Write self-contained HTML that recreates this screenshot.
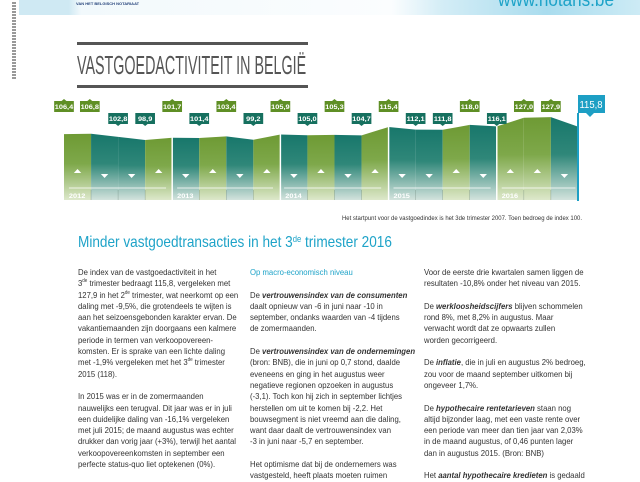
<!DOCTYPE html>
<html><head><meta charset="utf-8"><style>
body{margin:0;width:640px;height:480px;background:#fff;position:relative;overflow:hidden;font-family:"Liberation Sans",sans-serif;}
.abs{position:absolute;white-space:nowrap;}
.col{position:absolute;top:267px;font-size:8.6px;line-height:11.3px;color:#333;transform:scaleX(0.9);transform-origin:0 0;white-space:nowrap;}
.col b{font-style:italic;font-weight:bold;}
sup{font-size:5px;vertical-align:top;line-height:6px;}
</style></head><body>
<div class="abs" style="left:19px;top:0;width:621px;height:15px;background:linear-gradient(90deg,#cfe9f3 0,#cfe9f3 8%,#f2f9fc 10%,#fbfdfe 60%,#d4edf6 68%,#a9dcee 85%,#cdebf5 100%);"></div>
<div class="abs" style="left:76px;top:1px;font-size:4px;font-weight:bold;color:#24427a;">VAN HET BELGISCH NOTARIAAT</div>
<div class="abs" style="left:498px;top:-10px;font-size:19px;color:#1ea3c8;transform:scaleX(0.9);transform-origin:0 0;">www.notaris.be</div>
<div class="abs" style="left:12px;top:2px;width:4px;height:78px;background:repeating-linear-gradient(180deg,#333 0 2px,#fff 2px 3px);opacity:0.5;"></div>

<div class="abs" style="left:77px;top:42px;width:231px;height:3px;background:#555;"></div>
<div class="abs" style="left:77px;top:85px;width:231px;height:3px;background:#555;"></div>
<div class="abs" style="left:77px;top:50px;font-size:26px;color:#555;transform:scaleX(0.55);transform-origin:0 0;">VASTGOEDACTIVITEIT IN BELGIË</div>

<svg class="abs" style="left:0;top:0" width="640" height="230" viewBox="0 0 640 230">
<defs>
<linearGradient id="g" x1="0" y1="0" x2="0" y2="1"><stop offset="0" stop-color="#6e9a34"/><stop offset="0.45" stop-color="#7ea84a"/><stop offset="1" stop-color="#dde8cb"/></linearGradient>
<linearGradient id="t" x1="0" y1="0" x2="0" y2="1"><stop offset="0" stop-color="#18776b"/><stop offset="0.45" stop-color="#2f8779"/><stop offset="1" stop-color="#d3e3dd"/></linearGradient>
</defs>
<g transform="translate(64,0) scale(1.2295,1) translate(-52,0)">
<g>
<polygon points="52,134.1 74,133.8 74,200 52,200" fill="url(#g)"/>
<polygon points="74,133.8 96,136.9 96,200 74,200" fill="url(#t)"/>
<polygon points="96,136.9 118,140 118,200 96,200" fill="url(#t)"/>
<polygon points="118,140 140,137.8 140,200 118,200" fill="url(#g)"/>
<polygon points="140,137.8 162,138 162,200 140,200" fill="url(#t)"/>
<polygon points="162,138 184,136.4 184,200 162,200" fill="url(#g)"/>
<polygon points="184,136.4 206,139.8 206,200 184,200" fill="url(#t)"/>
<polygon points="206,139.8 228,134.5 228,200 206,200" fill="url(#g)"/>
<polygon points="228,134.5 250,135.2 250,200 228,200" fill="url(#t)"/>
<polygon points="250,135.2 272,134.9 272,200 250,200" fill="url(#g)"/>
<polygon points="272,134.9 294,135.4 294,200 272,200" fill="url(#t)"/>
<polygon points="294,135.4 316,127 316,200 294,200" fill="url(#g)"/>
<polygon points="316,127 338,129.6 338,200 316,200" fill="url(#t)"/>
<polygon points="338,129.6 360,129.8 360,200 338,200" fill="url(#t)"/>
<polygon points="360,129.8 382,124.9 382,200 360,200" fill="url(#g)"/>
<polygon points="382,124.9 404,126.4 404,200 382,200" fill="url(#t)"/>
<polygon points="404,126.4 426,117.8 426,200 404,200" fill="url(#g)"/>
<polygon points="426,117.8 448,117.1 448,200 426,200" fill="url(#g)"/>
<polygon points="448,117.1 470,126.6 470,200 448,200" fill="url(#t)"/>
</g>
<g stroke="#fff" stroke-width="1.2"><line x1="140" y1="130" x2="140" y2="201"/><line x1="228" y1="130" x2="228" y2="201"/><line x1="316" y1="120" x2="316" y2="201"/><line x1="404" y1="120" x2="404" y2="201"/></g>
<g stroke="#3a5a4a" stroke-width="0.4" opacity="0.5"><line x1="74" y1="190" x2="74" y2="200"/><line x1="96" y1="190" x2="96" y2="200"/><line x1="118" y1="190" x2="118" y2="200"/><line x1="162" y1="190" x2="162" y2="200"/><line x1="184" y1="190" x2="184" y2="200"/><line x1="206" y1="190" x2="206" y2="200"/><line x1="250" y1="190" x2="250" y2="200"/><line x1="272" y1="190" x2="272" y2="200"/><line x1="294" y1="190" x2="294" y2="200"/><line x1="338" y1="190" x2="338" y2="200"/><line x1="360" y1="190" x2="360" y2="200"/><line x1="382" y1="190" x2="382" y2="200"/><line x1="426" y1="190" x2="426" y2="200"/><line x1="448" y1="190" x2="448" y2="200"/></g>
<g stroke="#fff" stroke-width="0.7"><line x1="56" y1="188" x2="135" y2="188"/><line x1="144" y1="188" x2="222" y2="188"/><line x1="231" y1="188" x2="310" y2="188"/><line x1="320" y1="188" x2="399" y2="188"/><line x1="408" y1="188" x2="468" y2="188"/></g>
<g fill="#fff" font-size="6" font-weight="bold"><text x="56" y="198">2012</text><text x="144" y="198">2013</text><text x="232" y="198">2014</text><text x="320" y="198">2015</text><text x="408" y="198">2016</text></g>
<g fill="#fff">
<path d="M60,173 l3,-4 l3,4z"/><path d="M82,174 l3,4 l3,-4z"/><path d="M104,174 l3,4 l3,-4z"/><path d="M126,173 l3,-4 l3,4z"/>
<path d="M148,174 l3,4 l3,-4z"/><path d="M170,173 l3,-4 l3,4z"/><path d="M192,174 l3,4 l3,-4z"/><path d="M214,173 l3,-4 l3,4z"/>
<path d="M236,174 l3,4 l3,-4z"/><path d="M258,173 l3,-4 l3,4z"/><path d="M280,174 l3,4 l3,-4z"/><path d="M302,173 l3,-4 l3,4z"/>
<path d="M324,174 l3,4 l3,-4z"/><path d="M346,174 l3,4 l3,-4z"/><path d="M368,173 l3,-4 l3,4z"/><path d="M390,174 l3,4 l3,-4z"/>
<path d="M412,173 l3,-4 l3,4z"/><path d="M434,173 l3,-4 l3,4z"/><path d="M456,174 l3,4 l3,-4z"/>
</g>
<g font-size="6" font-weight="bold" fill="#fff" text-anchor="middle">
<g fill="#5f8f25"><rect x="44" y="101" width="16" height="11"/><path d="M50,101 l2,-2 l2,2z"/></g><text x="52" y="109">106,4</text>
<g fill="#5f8f25"><rect x="65" y="101" width="16" height="11"/><path d="M71,101 l2,-2 l2,2z"/></g><text x="73" y="109">106,8</text>
<g fill="#16705f"><rect x="88" y="113" width="16" height="11"/><path d="M94,124 l2,2 l2,-2z"/></g><text x="96" y="121">102,8</text>
<g fill="#16705f"><rect x="110" y="113" width="16" height="11"/><path d="M116,124 l2,2 l2,-2z"/></g><text x="118" y="121">98,9</text>
<g fill="#5f8f25"><rect x="132" y="101" width="16" height="11"/><path d="M138,101 l2,-2 l2,2z"/></g><text x="140" y="109">101,7</text>
<g fill="#16705f"><rect x="154" y="113" width="16" height="11"/><path d="M160,124 l2,2 l2,-2z"/></g><text x="162" y="121">101,4</text>
<g fill="#5f8f25"><rect x="176" y="101" width="16" height="11"/><path d="M182,101 l2,-2 l2,2z"/></g><text x="184" y="109">103,4</text>
<g fill="#16705f"><rect x="198" y="113" width="16" height="11"/><path d="M204,124 l2,2 l2,-2z"/></g><text x="206" y="121">99,2</text>
<g fill="#5f8f25"><rect x="220" y="101" width="16" height="11"/><path d="M226,101 l2,-2 l2,2z"/></g><text x="228" y="109">105,9</text>
<g fill="#16705f"><rect x="242" y="113" width="16" height="11"/><path d="M248,124 l2,2 l2,-2z"/></g><text x="250" y="121">105,0</text>
<g fill="#5f8f25"><rect x="264" y="101" width="16" height="11"/><path d="M270,101 l2,-2 l2,2z"/></g><text x="272" y="109">105,3</text>
<g fill="#16705f"><rect x="286" y="113" width="16" height="11"/><path d="M292,124 l2,2 l2,-2z"/></g><text x="294" y="121">104,7</text>
<g fill="#5f8f25"><rect x="308" y="101" width="16" height="11"/><path d="M314,101 l2,-2 l2,2z"/></g><text x="316" y="109">115,4</text>
<g fill="#16705f"><rect x="330" y="113" width="16" height="11"/><path d="M336,124 l2,2 l2,-2z"/></g><text x="338" y="121">112,1</text>
<g fill="#16705f"><rect x="352" y="113" width="16" height="11"/><path d="M358,124 l2,2 l2,-2z"/></g><text x="360" y="121">111,8</text>
<g fill="#5f8f25"><rect x="374" y="101" width="16" height="11"/><path d="M380,101 l2,-2 l2,2z"/></g><text x="382" y="109">118,0</text>
<g fill="#16705f"><rect x="396" y="113" width="16" height="11"/><path d="M402,124 l2,2 l2,-2z"/></g><text x="404" y="121">116,1</text>
<g fill="#5f8f25"><rect x="418" y="101" width="16" height="11"/><path d="M424,101 l2,-2 l2,2z"/></g><text x="426" y="109">127,0</text>
<g fill="#5f8f25"><rect x="440" y="101" width="16" height="11"/><path d="M446,101 l2,-2 l2,2z"/></g><text x="448" y="109">127,9</text>
</g>
</g>
<rect x="578" y="95" width="27" height="18" fill="#1d9fc4"/><path d="M586,113 l4,4 l4,-4z" fill="#1d9fc4"/>
<rect x="577" y="113" width="2" height="88" fill="#1d9fc4"/>
<text x="591" y="108" font-size="10" fill="#fff" text-anchor="middle" textLength="23" lengthAdjust="spacingAndGlyphs">115,8</text>
<text x="342" y="220" font-size="6.3" fill="#333" textLength="240" lengthAdjust="spacingAndGlyphs">Het startpunt voor de vastgoedindex is het 3de trimester 2007. Toen bedroeg de index 100.</text>
</svg>

<div class="abs" style="left:78px;top:234px;font-size:16px;color:#1ea3c8;transform:scaleX(0.85);transform-origin:0 0;">Minder vastgoedtransacties in het 3<sup style="font-size:9px;line-height:10px">de</sup> trimester 2016</div>

<div class="col" style="left:78px;">
De index van de vastgoedactiviteit in het<br>
3<sup>de</sup> trimester bedraagt 115,8, vergeleken met<br>
127,9 in het 2<sup>de</sup> trimester, wat neerkomt op een<br>
daling met -9,5%, die grotendeels te wijten is<br>
aan het seizoensgebonden karakter ervan. De<br>
vakantiemaanden zijn doorgaans een kalmere<br>
periode in termen van verkoopovereen-<br>
komsten. Er is sprake van een lichte daling<br>
met -1,9% vergeleken met het 3<sup>de</sup> trimester<br>
2015 (118).<br><br>
In 2015 was er in de zomermaanden<br>
nauwelijks een terugval. Dit jaar was er in juli<br>
een duidelijke daling van -16,1% vergeleken<br>
met juli 2015; de maand augustus was echter<br>
drukker dan vorig jaar (+3%), terwijl het aantal<br>
verkoopovereenkomsten in september een<br>
perfecte status-quo liet optekenen (0%).
</div>
<div class="col" style="left:250px;">
<span style="color:#1ea3c8">Op macro-economisch niveau</span><br><br>
De <b>vertrouwensindex van de consumenten</b><br>
daalt opnieuw van -6 in juni naar -10 in<br>
september, ondanks waarden van -4 tijdens<br>
de zomermaanden.<br><br>
De <b>vertrouwensindex van de ondernemingen</b><br>
(bron: BNB), die in juni op 0,7 stond, daalde<br>
eveneens en ging in het augustus weer<br>
negatieve regionen opzoeken in augustus<br>
(-3,1). Toch kon hij zich in september lichtjes<br>
herstellen om uit te komen bij -2,2. Het<br>
bouwsegment is niet vreemd aan die daling,<br>
want daar daalt de vertrouwensindex van<br>
-3 in juni naar -5,7 en september.<br><br>
Het optimisme dat bij de ondernemers was<br>
vastgesteld, heeft plaats moeten ruimen
</div>
<div class="col" style="left:424px;">
Voor de eerste drie kwartalen samen liggen de<br>
resultaten -10,8% onder het niveau van 2015.<br><br>
De <b>werkloosheidscijfers</b> blijven schommelen<br>
rond 8%, met 8,2% in augustus. Maar<br>
verwacht wordt dat ze opwaarts zullen<br>
worden gecorrigeerd.<br><br>
De <b>inflatie</b>, die in juli en augustus 2% bedroeg,<br>
zou voor de maand september uitkomen bij<br>
ongeveer 1,7%.<br><br>
De <b>hypothecaire rentetarieven</b> staan nog<br>
altijd bijzonder laag, met een vaste rente over<br>
een periode van meer dan tien jaar van 2,03%<br>
in de maand augustus, of 0,46 punten lager<br>
dan in augustus 2015. (Bron: BNB)<br><br>
Het <b>aantal hypothecaire kredieten</b> is gedaald
</div>
</body></html>
